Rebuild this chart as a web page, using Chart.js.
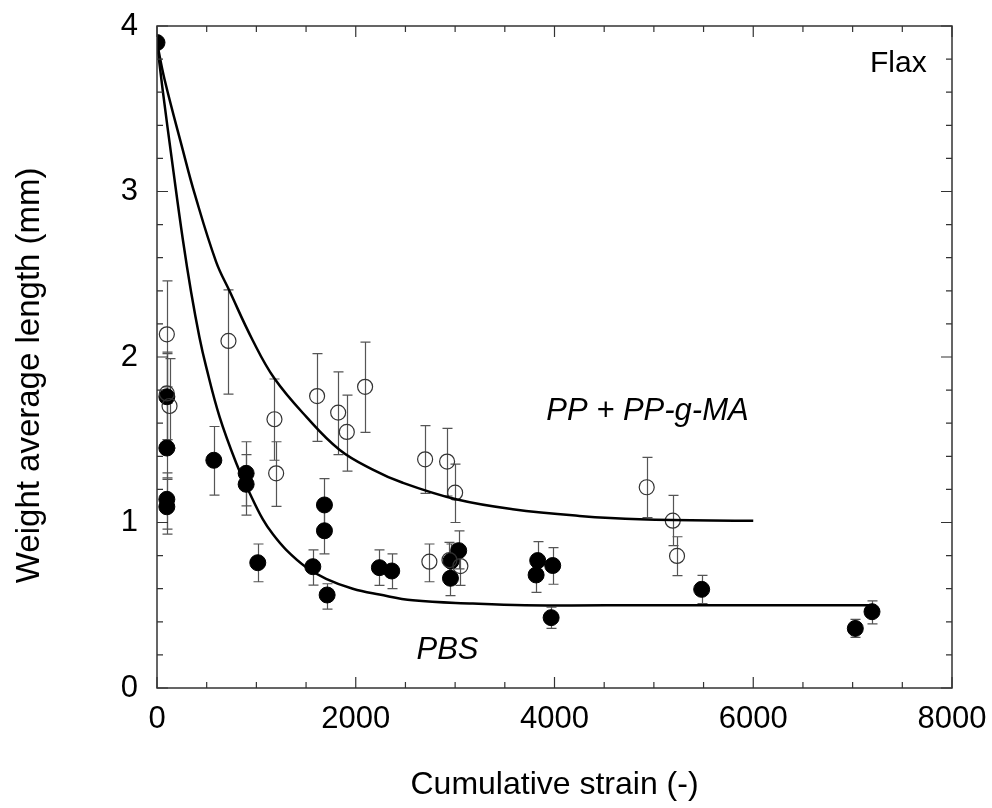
<!DOCTYPE html>
<html>
<head>
<meta charset="utf-8">
<script src="https://cdn.jsdelivr.net/npm/chart.js@4"></script>
<style>
  html, body { margin: 0; padding: 0; background: #fff; }
  #wrap { width: 992px; height: 808px; }
</style>
</head>
<body>
<div id="wrap"><canvas id="c"></canvas></div>
<script>
// PBS: filled circles
const pbsX    = [0, 99, 99, 99, 99, 572, 897, 897, 1014, 1568, 1685, 1685, 1712, 2238, 2362, 2953, 2959, 3036, 3815, 3831, 3982, 3966, 5481, 7027, 7195];
const pbsY    = [3.90, 1.76, 1.45, 1.14, 1.095, 1.376, 1.297, 1.231, 0.757, 0.733, 1.106, 0.95, 0.562, 0.727, 0.707, 0.663, 0.767, 0.83, 0.683, 0.77, 0.74, 0.425, 0.596, 0.36, 0.461];
const pbsLow  = [3.90, 1.50, 1.27, 0.96, 0.93, 1.166, 1.10, 1.045, 0.642, 0.622, 0.95, 0.81, 0.477, 0.62, 0.60, 0.558, 0.66, 0.72, 0.578, 0.67, 0.627, 0.36, 0.51, 0.306, 0.387];
const pbsHigh = [3.90, 2.02, 1.72, 1.30, 1.26, 1.58, 1.488, 1.41, 0.87, 0.834, 1.265, 1.10, 0.63, 0.834, 0.81, 0.77, 0.87, 0.95, 0.79, 0.884, 0.848, 0.488, 0.681, 0.415, 0.526];

// PP + PP-g-MA: open circles
const ppX    = [99, 99, 126, 719, 1182, 1199, 1611, 1823, 1910, 2094, 2698, 2741, 2919, 2943, 3000, 3053, 4928, 5190, 5233];
const ppY    = [2.137, 1.78, 1.704, 2.097, 1.624, 1.297, 1.764, 1.664, 1.547, 1.82, 1.382, 0.763, 1.368, 0.773, 1.18, 0.737, 1.213, 1.011, 0.798];
const ppLow  = [1.82, 1.50, 1.45, 1.776, 1.376, 1.098, 1.49, 1.41, 1.31, 1.545, 1.176, 0.642, 1.16, 0.66, 1.0, 0.62, 1.029, 0.86, 0.679];
const ppHigh = [2.46, 2.03, 1.99, 2.405, 1.867, 1.488, 2.02, 1.91, 1.77, 2.09, 1.585, 0.87, 1.569, 0.88, 1.353, 0.85, 1.394, 1.164, 0.914];

// fitted curves
const fitPpX = [0, 75, 260, 377, 595, 729, 964, 1182, 1501, 1836, 2171, 2473, 3010, 3580, 4250, 4855, 6000];
const fitPpY = [3.90, 3.68, 3.25, 2.99, 2.575, 2.40, 2.10, 1.87, 1.64, 1.44, 1.32, 1.24, 1.14, 1.08, 1.04, 1.02, 1.01];
const fitPbsX = [0, 58, 159, 260, 344, 427, 495, 629, 797, 931, 1064, 1165, 1300, 1501, 1702, 1970, 2238, 2574, 3178, 3700, 5000, 7200];
const fitPbsY = [3.90, 3.61, 3.15, 2.71, 2.39, 2.12, 1.94, 1.64, 1.36, 1.18, 1.02, 0.93, 0.835, 0.73, 0.66, 0.60, 0.565, 0.53, 0.51, 0.50, 0.50, 0.50];

const xTicks = [0, 2000, 4000, 6000, 8000];
const yTicks = [0, 1, 2, 3, 4];

const FONT = "'Liberation Sans', Arial, sans-serif";

const pts = (xs, ys) => xs.map((x, i) => ({ x: x, y: ys[i] }));

const frame = {
  id: 'frame',
  beforeDatasetsDraw(chart) {
    const ctx = chart.ctx, xs = chart.scales.x, ys = chart.scales.y;
    ctx.save();
    ctx.strokeStyle = '#555';
    ctx.lineWidth = 1.2;
    const bars = [[pbsX, pbsLow, pbsHigh], [ppX, ppLow, ppHigh]];
    bars.forEach(([bx, lo, hi]) => {
      bx.forEach((x, i) => {
        if (hi[i] === lo[i]) return;
        const px = Math.round(xs.getPixelForValue(x)) + 0.5;
        const p1 = ys.getPixelForValue(lo[i]), p2 = ys.getPixelForValue(hi[i]);
        ctx.beginPath();
        ctx.moveTo(px, p1); ctx.lineTo(px, p2);
        ctx.moveTo(px - 5, p1); ctx.lineTo(px + 5, p1);
        ctx.moveTo(px - 5, p2); ctx.lineTo(px + 5, p2);
        ctx.stroke();
      });
    });
    ctx.restore();
  },
  afterDraw(chart) {
    const ctx = chart.ctx, a = chart.chartArea, xs = chart.scales.x, ys = chart.scales.y;
    ctx.save();
    ctx.strokeStyle = '#333';
    ctx.lineWidth = 1.5;
    ctx.strokeRect(a.left, a.top, a.right - a.left, a.bottom - a.top);
    ctx.lineWidth = 1.2;
    ctx.beginPath();
    for (let v = 0; v <= 8000; v += 500) {
      const px = xs.getPixelForValue(v);
      const len = v % 2000 === 0 ? 11 : 6;
      ctx.moveTo(px, a.bottom); ctx.lineTo(px, a.bottom - len);
      ctx.moveTo(px, a.top); ctx.lineTo(px, a.top + len);
    }
    for (let i = 0; i <= 20; i++) {
      const py = ys.getPixelForValue(i * 0.2);
      const len = i % 5 === 0 ? 11 : 6;
      ctx.moveTo(a.left, py); ctx.lineTo(a.left + len, py);
      ctx.moveTo(a.right, py); ctx.lineTo(a.right - len, py);
    }
    ctx.stroke();

    ctx.fillStyle = '#000';
    ctx.textAlign = 'center';
    ctx.textBaseline = 'middle';
    ctx.font = '30px ' + FONT;
    ctx.fillText('Flax', xs.getPixelForValue(7460), ys.getPixelForValue(3.77));
    ctx.font = 'italic 31px ' + FONT;
    ctx.fillText('PP + PP-g-MA', xs.getPixelForValue(4935), ys.getPixelForValue(1.67));
    ctx.fillText('PBS', xs.getPixelForValue(2923), ys.getPixelForValue(0.23));
    ctx.restore();
  }
};

new Chart(document.getElementById('c'), {
  type: 'scatter',
  data: {
    datasets: [
      {
        label: 'PBS fit',
        data: pts(fitPbsX, fitPbsY),
        showLine: true,
        borderColor: '#000',
        borderWidth: 2.5,
        pointRadius: 0,
        tension: 0.4
      },
      {
        label: 'PP + PP-g-MA fit',
        data: pts(fitPpX, fitPpY),
        showLine: true,
        borderColor: '#000',
        borderWidth: 2.5,
        pointRadius: 0,
        tension: 0.4
      },
      {
        label: 'PP + PP-g-MA',
        data: pts(ppX, ppY),
        pointRadius: 7.5,
        pointBackgroundColor: 'rgba(0,0,0,0)',
        pointBorderColor: '#333',
        pointBorderWidth: 1.2
      },
      {
        label: 'PBS',
        data: pts(pbsX, pbsY),
        pointRadius: 8,
        pointBackgroundColor: '#000',
        pointBorderColor: '#000',
        pointBorderWidth: 1
      }
    ]
  },
  options: {
    responsive: true,
    maintainAspectRatio: false,
    animation: false,
    layout: { padding: { left: 10, right: 40, top: 26, bottom: 4 } },
    plugins: {
      legend: { display: false },
      tooltip: { enabled: false }
    },
    scales: {
      x: {
        type: 'linear',
        min: 0, max: 8000,
        afterBuildTicks: s => { s.ticks = xTicks.map(v => ({ value: v })); },
        afterFit: s => { s.height = 116; s.paddingLeft = 0; s.paddingRight = 0; },
        grid: { display: false, drawTicks: false },
        border: { display: false },
        ticks: { color: '#000', padding: 13, maxRotation: 0, callback: v => String(v), font: { family: FONT, size: 31 } },
        title: { display: true, text: 'Cumulative strain (-)', color: '#000', padding: 0, font: { family: FONT, size: 32 } }
      },
      y: {
        type: 'linear',
        min: 0, max: 4,
        afterBuildTicks: s => { s.ticks = yTicks.map(v => ({ value: v })); },
        afterFit: s => { s.width = 147; s.paddingTop = 0; s.paddingBottom = 0; },
        grid: { display: false, drawTicks: false },
        border: { display: false },
        ticks: { color: '#000', padding: 19, callback: v => String(v), font: { family: FONT, size: 31 } },
        title: { display: true, text: 'Weight average length (mm)    ', color: '#000', padding: 0, font: { family: FONT, size: 33 } }
      }
    }
  },
  plugins: [frame]
});
</script>
</body>
</html>
